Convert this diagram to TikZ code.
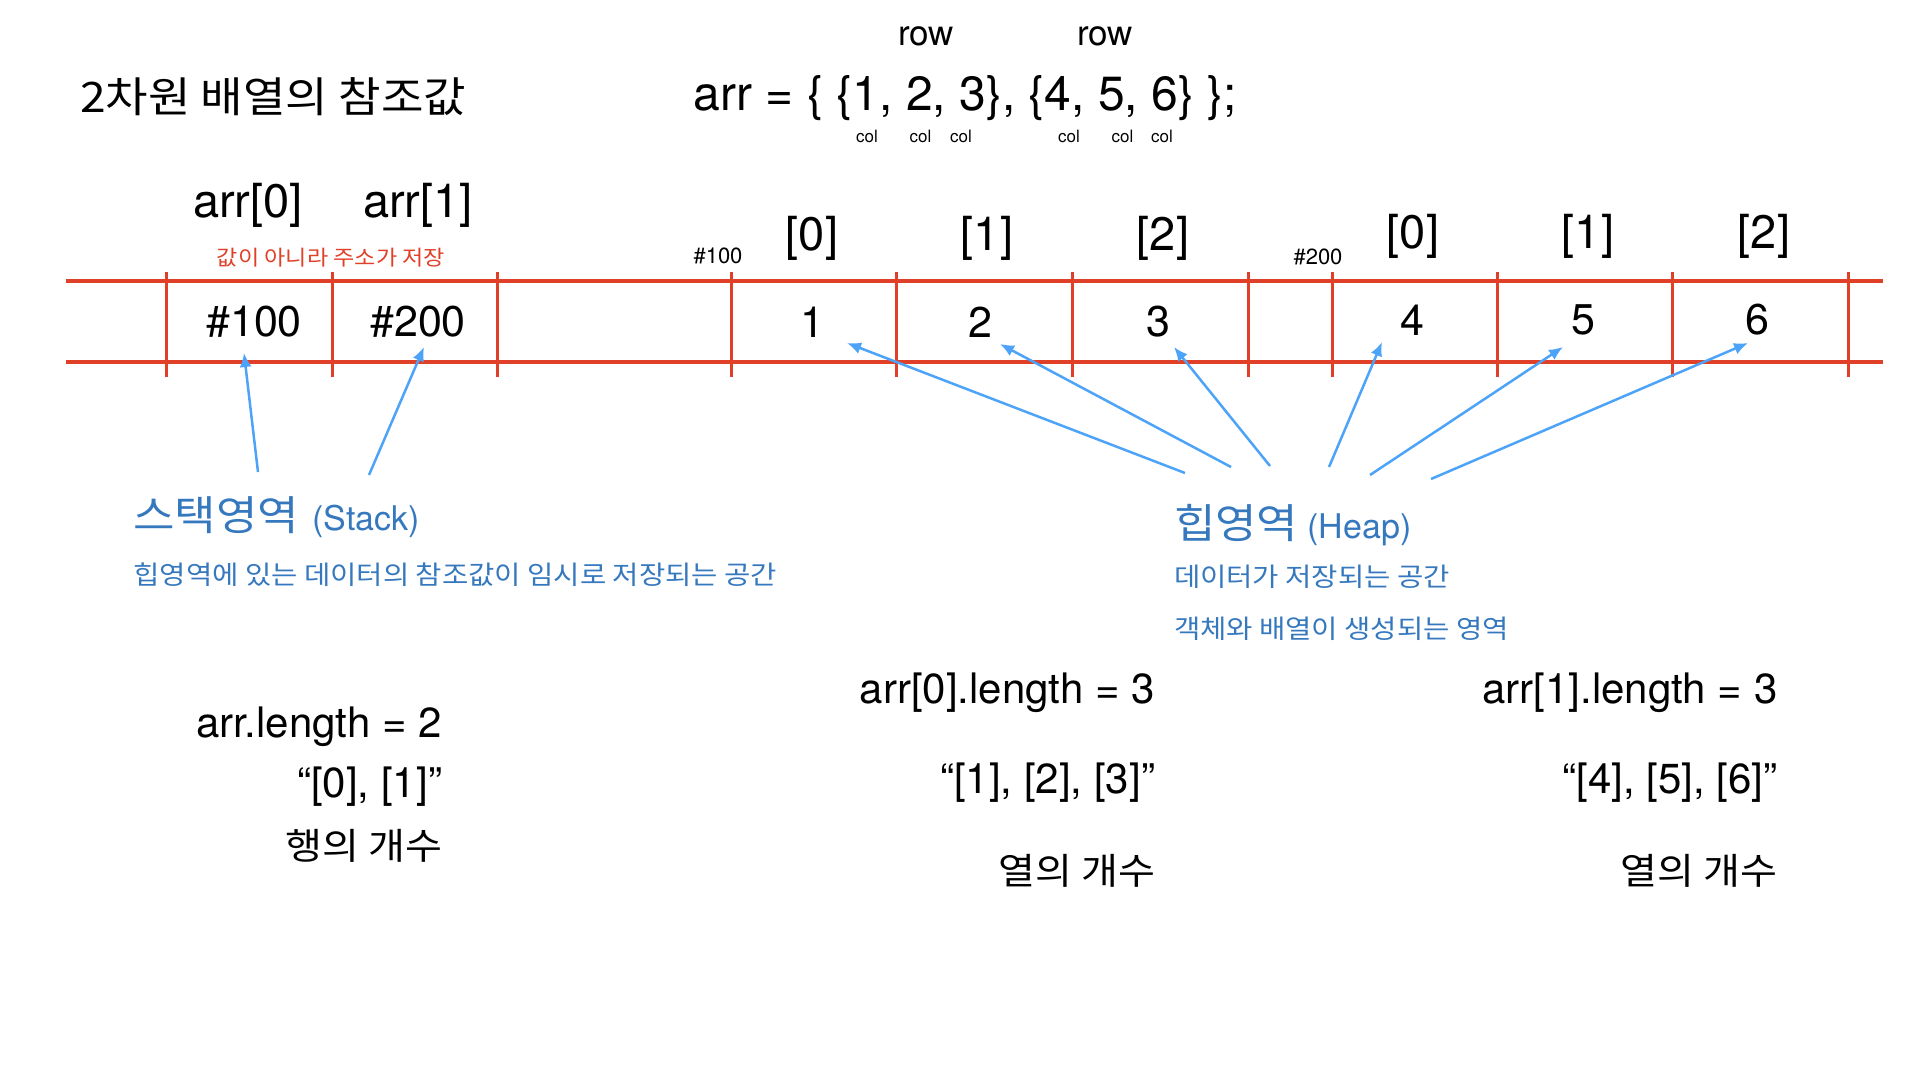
\documentclass[tikz,border=0pt]{standalone}
\usepackage{fontspec}
\setmainfont{TeX Gyre Heros}
\newfontfamily\kr[FakeStretch=1.1]{Noto Sans CJK KR}
\usetikzlibrary{arrows.meta}
\definecolor{cellred}{RGB}{224,64,40}
\definecolor{ptrblue}{RGB}{77,163,247}
\definecolor{txtblue}{RGB}{53,120,190}
\tikzset{
  txt/.style     = {inner sep=0pt, outer sep=0pt},
  huge/.style    = {txt, font=\fontsize{47}{56}\selectfont},
  cell/.style    = {txt, font=\fontsize{43}{50}\selectfont},
  note/.style    = {txt, anchor=base east, font=\fontsize{42}{48}\selectfont},
  noteko/.style  = {note, font=\kr\fontsize{36.5}{44}\selectfont},
  addr/.style    = {txt, anchor=base, font=\fontsize{22}{26}\selectfont},
  rowlbl/.style  = {txt, anchor=base, font=\fontsize{35}{40}\selectfont},
  collbl/.style  = {txt, anchor=base, font=\fontsize{17}{20}\selectfont},
  area/.style    = {txt, text=txtblue, anchor=base west},
  areasub/.style = {area, font=\kr\fontsize{26}{30}\selectfont},
  memline/.style = {draw=cellred, line width=4pt},
  memtick/.style = {draw=cellred, line width=3pt},
  ptr/.style     = {->, draw=ptrblue, line width=2.5pt}
}

\begin{document}
\begin{tikzpicture}[x=1pt, y=-1pt, >={Latex[length=14pt,width=12pt]}]
\useasboundingbox (0,0) rectangle (1920,1080);

% title and declaration
\node[txt, anchor=base west, font=\kr\fontsize{42}{50}\selectfont] (title) at (80,112) {2차원 배열의 참조값};
\node[txt, anchor=base, font=\fontsize{48}{56}\selectfont] (decl) at (965.5,110) {arr = \{ \{1, 2, 3\}, \{4, 5, 6\} \};};
\node[rowlbl] (row1) at (926,45) {row};
\node[rowlbl] (row2) at (1105,45) {row};
\foreach \x [count=\n] in {867,920.5,961,1069,1122.6,1162}
  \node[collbl] (col\n) at (\x,142) {col};

% the memory strip
\draw[memline] (66,281) -- (1883,281);
\draw[memline] (66,362) -- (1883,362);
\foreach \x in {166.6,332,497,731,896.5,1072,1248,1332,1497,1672,1848}
  \draw[memtick] (\x,272) -- (\x,377);

% stack cells
\node[huge] (ref0) at (248,205) {arr[0]};
\node[huge] (ref1) at (418,205) {arr[1]};
\node[txt, anchor=base, text=cellred, font=\kr\fontsize{21}{25}\selectfont] (refnote) at (331,265) {값이 아니라 주소가 저장};
\node[cell] (s0) at (254,322) {\#100};
\node[cell] (s1) at (418,322) {\#200};

% heap cells
\node[addr] (a100) at (718,263) {\#100};
\node[addr] (a200) at (1318,264) {\#200};
\foreach \i/\x/\y [count=\n] in {0/812/238, 1/987/238, 2/1163/238, 0/1413/236, 1/1588/236, 2/1764/236}
  \node[huge] (idx\n) at (\x,\y) {[\i]};
\foreach \v/\x/\y in {1/812/322, 2/980/322, 3/1158/322, 4/1412/320, 5/1583/320, 6/1757/320}
  \node[cell] (v\v) at (\x,\y) {\v};

% area labels
\node[area] (stack) at (133.5,530) {{\kr\fontsize{41}{48}\selectfont 스택영역}\hspace{13pt}{\fontsize{34}{40}\selectfont(Stack)}};
\node[areasub] (stacksub) at (133.5,584) {힙영역에 있는 데이터의 참조값이 임시로 저장되는 공간};
\node[area] (heap) at (1174,538) {{\kr\fontsize{41}{48}\selectfont 힙영역}\hspace{9pt}{\fontsize{34}{40}\selectfont(Heap)}};
\node[areasub] (heapsub1) at (1174,586) {데이터가 저장되는 공간};
\node[areasub] (heapsub2) at (1174,638) {객체와 배열이 생성되는 영역};

% pointers from the labels to the cells
\foreach \n/\fx/\fy/\tx/\ty in {1/1185/473/847/343, 2/1231/467/1000/344, 3/1270/466/1174/347,
    4/1329/467/1382/342, 5/1370/475/1563/347, 6/1431/479/1748/343,
    7/258/472/244/353, 8/369/475/424/347}
{
  \coordinate (from\n) at (\fx,\fy);
  \coordinate (to\n) at (\tx,\ty);
  \draw[ptr] (from\n) -- (to\n);
}

% lengths
\node[note] (len) at (442,737) {arr.length = 2};
\node[note] (rows) at (442,797) {“[0], [1]”};
\node[noteko] (rowcnt) at (442,859) {행의 개수};
\node[note] (len0) at (1155,703) {arr[0].length = 3};
\node[note] (cols0) at (1155,793) {“[1], [2], [3]”};
\node[noteko] (colcnt0) at (1155,884) {열의 개수};
\node[note] (len1) at (1777.5,703) {arr[1].length = 3};
\node[note] (cols1) at (1777.5,793) {“[4], [5], [6]”};
\node[noteko] (colcnt1) at (1777.5,884) {열의 개수};
\end{tikzpicture}
\end{document}
